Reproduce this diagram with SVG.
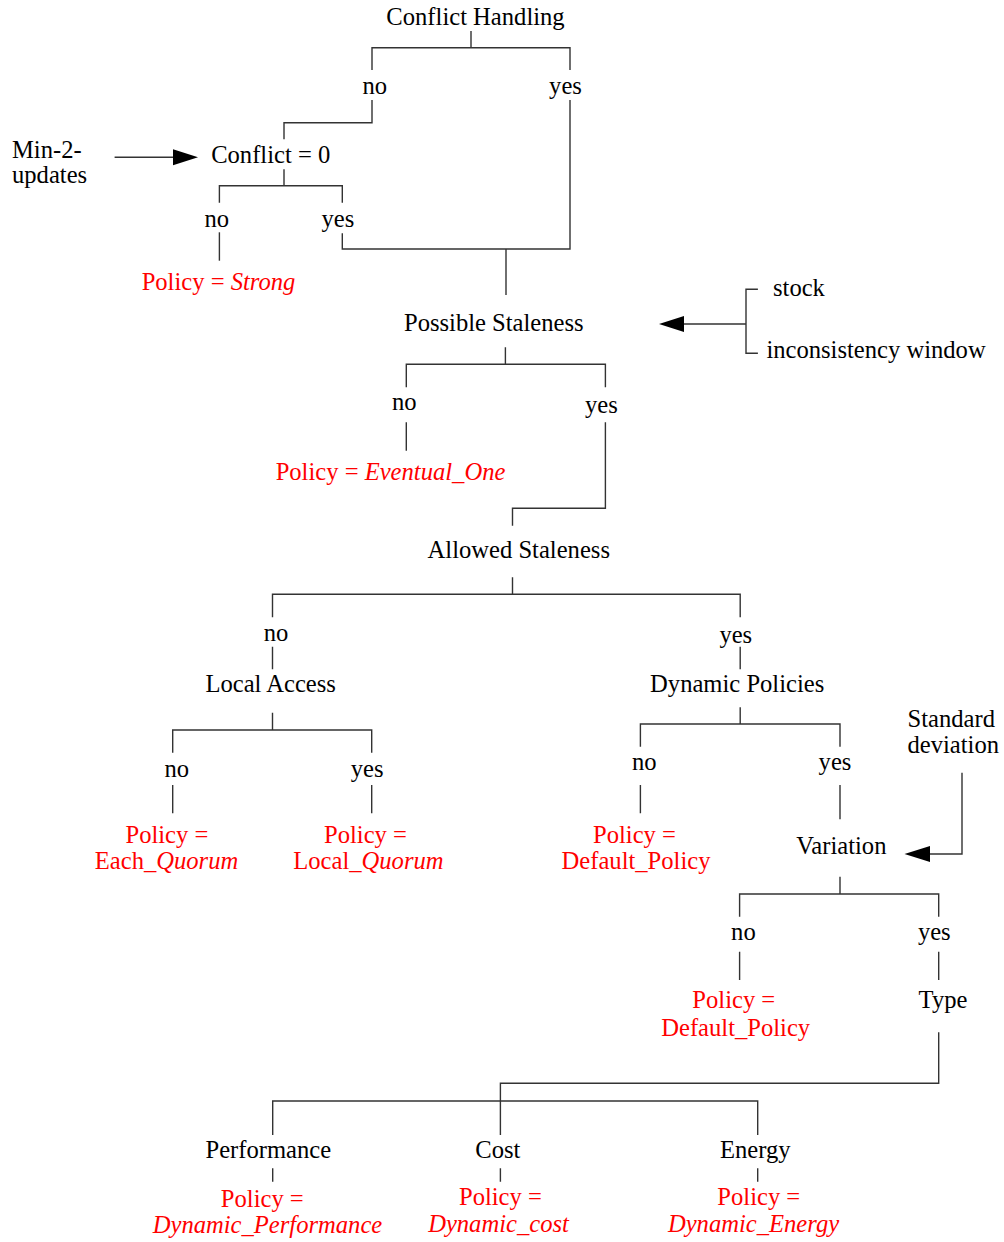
<svg xmlns="http://www.w3.org/2000/svg" width="1004" height="1242" viewBox="0 0 1004 1242">
<style>
text{font-family:"Liberation Serif","Times New Roman",serif;font-size:24.6px;fill:#000}
.c{text-anchor:middle}
.r{fill:#f00}
.i{font-style:italic}
.ln{fill:none;stroke:#333;stroke-width:1.4}
.ah{fill:#000}
</style>
<rect width="1004" height="1242" fill="#fff"/>
<g id="connectors">
<path class="ln" d="M471,31V47.7M372,70V47.7H570V70"/>
<path class="ln" d="M372,100V122.7H284V139.3"/>
<path class="ln" d="M284,169.3V185.7M219.4,202.7V185.7H342.3V202.7"/>
<path class="ln" d="M219.4,232.3V260.7"/>
<path class="ln" d="M570,100V249H342.3V233.3"/>
<path class="ln" d="M506,249V295"/>
<path class="ln" d="M114.6,157.3H174"/>
<polygon class="ah" points="173,149.3 198,157.3 173,165.3"/>
<path class="ln" d="M505.4,347.3V364.3M406.3,387.3V364.3H605.4V387.3"/>
<path class="ln" d="M406.3,422.3V450.7"/>
<path class="ln" d="M605.4,422.3V508.3H512.5V525.7"/>
<path class="ln" d="M757.9,289.3H746V353.3H757.9M746,324H683"/>
<polygon class="ah" points="684,316 659,324 684,332"/>
<path class="ln" d="M512.5,577.3V594.3M272.5,617.3V594.3H740.2V617.3"/>
<path class="ln" d="M272.5,646.7V669.3M740.2,646.7V669.3"/>
<path class="ln" d="M272.5,712.7V730M172.7,752.7V730H371.7V752.7"/>
<path class="ln" d="M172.7,785V813.3M371.7,785V813.3"/>
<path class="ln" d="M740.2,707.3V724M640.4,746.7V724H840V746.7"/>
<path class="ln" d="M640.4,785V813.3M840,785V819.3"/>
<path class="ln" d="M962,772.7V854H929"/>
<polygon class="ah" points="930,846 904.5,854 930,862"/>
<path class="ln" d="M840,876.7V894M739.6,916.7V894H938.7V916.7"/>
<path class="ln" d="M739.6,951.7V980M938.7,951.7V980"/>
<path class="ln" d="M938.7,1032.3V1083.3H500.4V1135"/>
<path class="ln" d="M272.7,1135V1101H757.7V1135"/>
<path class="ln" d="M272.7,1168.3V1181.7M500.4,1168.3V1181.7M757.7,1168.3V1181.7"/>
</g>
<g id="conflict-handling"><text class="c" x="475.5" y="25">Conflict Handling</text></g>
<g id="ch-no"><text class="c" x="374.8" y="94">no</text></g>
<g id="ch-yes"><text class="c" x="565.5" y="94">yes</text></g>
<g id="min2"><text x="12" y="158">Min-2-</text><text x="12" y="183">updates</text></g>
<g id="conflict0"><text class="c" x="270.7" y="163.3">Conflict = 0</text></g>
<g id="c0-no"><text class="c" x="216.8" y="226.7">no</text></g>
<g id="c0-yes"><text class="c" x="337.9" y="226.7">yes</text></g>
<g id="policy-strong"><text class="c r" x="218.5" y="290">Policy = <tspan class="i">Strong</tspan></text></g>
<g id="possible-staleness"><text class="c" x="493.8" y="330.7">Possible Staleness</text></g>
<g id="stock"><text x="773" y="296">stock</text><text x="766.4" y="358.3">inconsistency window</text></g>
<g id="ps-no"><text class="c" x="404.3" y="410">no</text></g>
<g id="ps-yes"><text class="c" x="601.4" y="413">yes</text></g>
<g id="policy-eventual"><text class="c r" x="390.5" y="480">Policy = <tspan class="i">Eventual_One</tspan></text></g>
<g id="allowed-staleness"><text class="c" x="518.8" y="558.3">Allowed Staleness</text></g>
<g id="as-no"><text class="c" x="276" y="641">no</text></g>
<g id="as-yes"><text class="c" x="735.8" y="643">yes</text></g>
<g id="local-access"><text class="c" x="270.7" y="692.3">Local Access</text></g>
<g id="dynamic-policies"><text class="c" x="737.2" y="692.3">Dynamic Policies</text></g>
<g id="la-no"><text class="c" x="176.8" y="776.7">no</text></g>
<g id="la-yes"><text class="c" x="367.2" y="776.7">yes</text></g>
<g id="policy-each"><text class="c r" x="166.9" y="843.3">Policy =</text><text class="c r" x="166.5" y="869.3">Each_<tspan class="i">Quorum</tspan></text></g>
<g id="policy-local"><text class="c r" x="365.5" y="843.3">Policy =</text><text class="c r" x="368.4" y="869.3">Local_<tspan class="i">Quorum</tspan></text></g>
<g id="dp-no"><text class="c" x="644.2" y="770">no</text></g>
<g id="dp-yes"><text class="c" x="835" y="770">yes</text></g>
<g id="policy-default1"><text class="c r" x="634.5" y="843.3">Policy =</text><text class="c r" x="636" y="869.3">Default_Policy</text></g>
<g id="variation"><text class="c" x="841.4" y="854">Variation</text></g>
<g id="std-dev"><text x="907.5" y="726.7">Standard</text><text x="907.5" y="753.3">deviation</text></g>
<g id="v-no"><text class="c" x="743.4" y="940">no</text></g>
<g id="v-yes"><text class="c" x="934.3" y="940">yes</text></g>
<g id="policy-default2"><text class="c r" x="733.8" y="1008.3">Policy =</text><text class="c r" x="735.7" y="1036">Default_Policy</text></g>
<g id="type"><text class="c" x="943" y="1008.3">Type</text></g>
<g id="performance"><text class="c" x="268.3" y="1158.3">Performance</text></g>
<g id="cost"><text class="c" x="497.9" y="1158.3">Cost</text></g>
<g id="energy"><text class="c" x="755.2" y="1158.3">Energy</text></g>
<g id="policy-perf"><text class="c r" x="262.3" y="1206.7">Policy =</text><text class="c r i" x="267.5" y="1233.3">Dynamic_Performance</text></g>
<g id="policy-cost"><text class="c r" x="500.4" y="1205">Policy =</text><text class="c r i" x="498.5" y="1231.7">Dynamic_cost</text></g>
<g id="policy-energy"><text class="c r" x="758.8" y="1205">Policy =</text><text class="c r i" x="753.5" y="1231.7">Dynamic_Energy</text></g>
</svg>
